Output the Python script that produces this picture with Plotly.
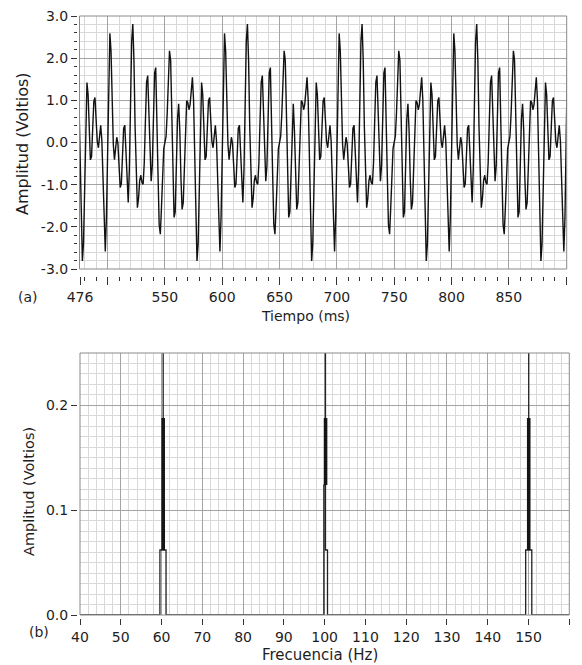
import plotly.graph_objects as go

# ---------------- data ----------------
# (a) time signal, one sample per ms starting at 475 ms
t_inicio_ms = 475
dt_ms = 1

v_475_499 = [1.0, -0.368, -1.945, -2.807, -2.395, -0.951, 0.626, 1.420, 1.135, 0.249,
             -0.412, -0.332, 0.340, 0.982, 1.065, 0.588, 0.028, -0.125, 0.160, 0.405,
             0.049, -0.998, -2.165, -2.587, -1.765]

v_500_599 = [0.0, 1.765, 2.587, 2.165, 0.998, -0.049, -0.405, -0.160, 0.125, -0.028,
             -0.588, -1.065, -0.982, -0.340, 0.332, 0.412, -0.249, -1.135, -1.420, -0.626,
             0.951, 2.395, 2.807, 1.945, 0.368, -1.0, -1.544, -1.327, -0.905, -0.777,
             -0.951, -0.992, -0.482, 0.517, 1.425, 1.588, 0.844, -0.278, -0.920, -0.553,
             0.588, 1.646, 1.777, 0.778, -0.771, -1.951, -2.174, -1.547, -0.685, -0.147,
             0.0, 0.147, 0.685, 1.547, 2.174, 1.951, 0.771, -0.778, -1.777, -1.646,
             -0.588, 0.553, 0.920, 0.278, -0.844, -1.588, -1.425, -0.517, 0.482, 0.992,
             0.951, 0.777, 0.905, 1.327, 1.544, 1.0, -0.368, -1.945, -2.807, -2.395,
             -0.951, 0.626, 1.420, 1.135, 0.249, -0.412, -0.332, 0.340, 0.982, 1.065,
             0.588, 0.028, -0.125, 0.160, 0.405, 0.049, -0.998, -2.165, -2.587, -1.765]

v_600_699 = [0.0, 1.765, 2.587, 2.165, 0.998, -0.049, -0.405, -0.160, 0.125, -0.028,
             -0.588, -1.065, -0.982, -0.340, 0.332, 0.412, -0.249, -1.135, -1.420, -0.626,
             0.951, 2.395, 2.807, 1.945, 0.368, -1.0, -1.544, -1.327, -0.905, -0.777,
             -0.951, -0.992, -0.482, 0.517, 1.425, 1.588, 0.844, -0.278, -0.920, -0.553,
             0.588, 1.646, 1.777, 0.778, -0.771, -1.951, -2.174, -1.547, -0.685, -0.147,
             0.0, 0.147, 0.685, 1.547, 2.174, 1.951, 0.771, -0.778, -1.777, -1.646,
             -0.588, 0.553, 0.920, 0.278, -0.844, -1.588, -1.425, -0.517, 0.482, 0.992,
             0.951, 0.777, 0.905, 1.327, 1.544, 1.0, -0.368, -1.945, -2.807, -2.395,
             -0.951, 0.626, 1.420, 1.135, 0.249, -0.412, -0.332, 0.340, 0.982, 1.065,
             0.588, 0.028, -0.125, 0.160, 0.405, 0.049, -0.998, -2.165, -2.587, -1.765]

v_700_799 = [0.0, 1.765, 2.587, 2.165, 0.998, -0.049, -0.405, -0.160, 0.125, -0.028,
             -0.588, -1.065, -0.982, -0.340, 0.332, 0.412, -0.249, -1.135, -1.420, -0.626,
             0.951, 2.395, 2.807, 1.945, 0.368, -1.0, -1.544, -1.327, -0.905, -0.777,
             -0.951, -0.992, -0.482, 0.517, 1.425, 1.588, 0.844, -0.278, -0.920, -0.553,
             0.588, 1.646, 1.777, 0.778, -0.771, -1.951, -2.174, -1.547, -0.685, -0.147,
             0.0, 0.147, 0.685, 1.547, 2.174, 1.951, 0.771, -0.778, -1.777, -1.646,
             -0.588, 0.553, 0.920, 0.278, -0.844, -1.588, -1.425, -0.517, 0.482, 0.992,
             0.951, 0.777, 0.905, 1.327, 1.544, 1.0, -0.368, -1.945, -2.807, -2.395,
             -0.951, 0.626, 1.420, 1.135, 0.249, -0.412, -0.332, 0.340, 0.982, 1.065,
             0.588, 0.028, -0.125, 0.160, 0.405, 0.049, -0.998, -2.165, -2.587, -1.765]

v_800_899 = [0.0, 1.765, 2.587, 2.165, 0.998, -0.049, -0.405, -0.160, 0.125, -0.028,
             -0.588, -1.065, -0.982, -0.340, 0.332, 0.412, -0.249, -1.135, -1.420, -0.626,
             0.951, 2.395, 2.807, 1.945, 0.368, -1.0, -1.544, -1.327, -0.905, -0.777,
             -0.951, -0.992, -0.482, 0.517, 1.425, 1.588, 0.844, -0.278, -0.920, -0.553,
             0.588, 1.646, 1.777, 0.778, -0.771, -1.951, -2.174, -1.547, -0.685, -0.147,
             0.0, 0.147, 0.685, 1.547, 2.174, 1.951, 0.771, -0.778, -1.777, -1.646,
             -0.588, 0.553, 0.920, 0.278, -0.844, -1.588, -1.425, -0.517, 0.482, 0.992,
             0.951, 0.777, 0.905, 1.327, 1.544, 1.0, -0.368, -1.945, -2.807, -2.395,
             -0.951, 0.626, 1.420, 1.135, 0.249, -0.412, -0.332, 0.340, 0.982, 1.065,
             0.588, 0.028, -0.125, 0.160, 0.405, 0.049, -0.998, -2.165, -2.587, -1.765]

v_900_901 = [0.0, 1.765]

amplitud_v = v_475_499 + v_500_599 + v_600_699 + v_700_799 + v_800_899 + v_900_901

# top x axis tick labels
t_tickvals = [476, 500, 550, 600, 650, 700, 750, 800, 850, 900]
t_ticktext = ["476", "", "550", "600", "650", "700", "750", "800", "850", ""]
a_tickvals = [-3, -2, -1, 0, 1, 2, 3]
a_ticktext = ["-3.0", "-2.0", "-1.0", "0.0", "1.0", "2.0", "3.0"]

# (b) spectrum outline (Hz, V): baseline, bin edges and peak lines
espectro_hz = [40, 59.6, 59.6, 60.4, 60.4, 60.4, 61.1, 61.1,
               99.8, 99.8, 100.2, 100.2, 100.2, 100.7, 100.7,
               149.3, 149.3, 150.05, 150.05, 150.05, 150.8, 150.8,
               160]
espectro_v = [0, 0, 0.062, 0.062, 1.0, 0.062, 0.062, 0,
              0, 0.124, 0.124, 1.0, 0.062, 0.062, 0,
              0, 0.062, 0.062, 1.0, 0.062, 0.062, 0,
              0]
# dense (overlapping) part of each peak
banda_hz = [60.4, 60.4, None, 100.22, 100.22, None, 150.05, 150.05]
banda_v = [0.062, 0.188, None, 0.124, 0.188, None, 0.062, 0.188]

f_tickvals = [40, 50, 60, 70, 80, 90, 100, 110, 120, 130, 140, 150, 160]
s_tickvals = [0.0, 0.1, 0.2]
s_ticktext = ["0.0", "0.1", "0.2"]

# ---------------- figure ----------------
W, H = 582, 665
FONT = "DejaVu Sans"
TXT = "#1e1e1e"
MAJ = "#a4a4a4"
MIN = "#d8d8d8"


def px(x):
    return x / W


def py(y):
    return 1 - y / H


fig = go.Figure()
fig.add_trace(go.Scatter(x0=t_inicio_ms, dx=dt_ms, y=amplitud_v, mode="lines",
                         line=dict(color="#111111", width=1.4),
                         xaxis="x", yaxis="y", showlegend=False, hoverinfo="skip"))
fig.add_trace(go.Scatter(x=espectro_hz, y=espectro_v, mode="lines",
                         line=dict(color="#222222", width=1.3),
                         xaxis="x2", yaxis="y2", showlegend=False, hoverinfo="skip"))
fig.add_trace(go.Scatter(x=banda_hz, y=banda_v, mode="lines", connectgaps=False,
                         line=dict(color="#151515", width=3.6),
                         xaxis="x2", yaxis="y2", showlegend=False, hoverinfo="skip"))

tickfont = dict(family=FONT, size=14, color=TXT)

fig.update_layout(
    template="none",
    width=W, height=H, autosize=False,
    margin=dict(l=0, r=0, t=0, b=0, pad=0),
    paper_bgcolor="white", plot_bgcolor="white",
    font=dict(family=FONT, size=14, color=TXT),
    xaxis=dict(domain=[px(79.5), px(566.7)], range=[475.5, 900.5],
               anchor="free", position=py(276), automargin=False,
               tickmode="array", tickvals=t_tickvals, ticktext=t_ticktext,
               ticks="outside", ticklen=8, tickcolor="#333", tickwidth=1,
               showgrid=True, gridcolor=MAJ, gridwidth=1,
               minor=dict(tick0=0, dtick=10, ticks="outside", ticklen=4,
                          tickcolor="#333", showgrid=True, gridcolor=MIN, gridwidth=1),
               showline=False, zeroline=False, tickfont=tickfont, fixedrange=True),
    yaxis=dict(domain=[py(269), py(16)], range=[-3, 3],
               anchor="free", position=px(77), automargin=False,
               tickmode="array", tickvals=a_tickvals, ticktext=a_ticktext,
               ticks="outside", ticklen=6, tickcolor="#333", tickwidth=1,
               showgrid=True, gridcolor=MAJ, gridwidth=1,
               minor=dict(tick0=0, dtick=0.2, ticks="outside", ticklen=3,
                          tickcolor="#333", showgrid=True, gridcolor=MIN, gridwidth=1),
               showline=False, zeroline=False, tickfont=tickfont, fixedrange=True),
    xaxis2=dict(domain=[px(80), px(569.3)], range=[40, 160],
                anchor="free", position=py(618), automargin=False,
                tickmode="array", tickvals=f_tickvals,
                ticks="outside", ticklen=6, tickcolor="#333", tickwidth=1,
                showgrid=True, gridcolor=MAJ, gridwidth=1,
                minor=dict(tick0=0, dtick=2, ticks="", showgrid=True,
                           gridcolor=MIN, gridwidth=1),
                showline=False, zeroline=False, tickfont=tickfont, fixedrange=True),
    yaxis2=dict(domain=[py(615), py(353)], range=[0, 0.25],
                anchor="free", position=px(77), automargin=False,
                tickmode="array", tickvals=s_tickvals, ticktext=s_ticktext,
                ticks="outside", ticklen=6, tickcolor="#333", tickwidth=1,
                showgrid=True, gridcolor=MAJ, gridwidth=1,
                minor=dict(tick0=0, dtick=0.01, ticks="", showgrid=True,
                           gridcolor=MIN, gridwidth=1),
                showline=False, zeroline=False, tickfont=tickfont, fixedrange=True),
)

# plot frames
for xr, yr in (("x domain", "y domain"), ("x2 domain", "y2 domain")):
    fig.add_shape(type="rect", xref=xr, yref=yr, x0=0, x1=1, y0=0, y1=1,
                  line=dict(color="#8a8a8a", width=1), layer="above")

ann = [
    dict(text="Tiempo (ms)", x=px(305), y=py(316), size=14, angle=0),
    dict(text="Frecuencia (Hz)", x=px(320), y=py(655), size=15, angle=0),
    dict(text="(a)", x=px(27.5), y=py(297), size=14, angle=0),
    dict(text="(b)", x=px(38.5), y=py(632), size=14, angle=0),
    dict(text="Amplitud (Voltios)", x=px(22.5), y=py(143.5), size=16, angle=-90),
    dict(text="Amplitud (Voltios)", x=px(29), y=py(492), size=14.5, angle=-90),
]
for a in ann:
    fig.add_annotation(text=a["text"], x=a["x"], y=a["y"], xref="paper", yref="paper",
                       xanchor="center", yanchor="middle", showarrow=False,
                       textangle=a["angle"], font=dict(family=FONT, size=a["size"], color=TXT))

fig.write_html("out.html", config={"displayModeBar": False},
               post_script="document.body.style.margin='0px';"
                           "document.body.style.overflow='hidden';")
